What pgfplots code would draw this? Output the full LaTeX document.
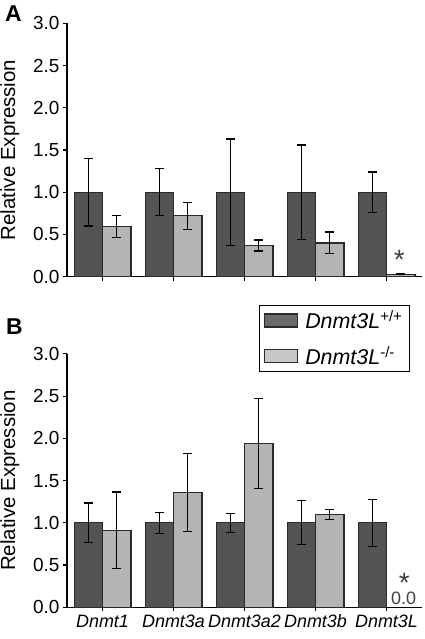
\documentclass[border=0pt]{standalone}
\usepackage{pgfplots}
\pgfplotsset{compat=1.18}
\usepackage{fontspec}
\setmainfont{Liberation Sans}
\definecolor{darkbar}{HTML}{545454}
\definecolor{lightbar}{HTML}{B4B4B4}
\definecolor{darkleg}{HTML}{6A6A6A}
\definecolor{lightleg}{HTML}{C8C8C8}
\definecolor{edge}{HTML}{2A2A2A}
\pgfplotsset{
  panel/.style={
    scale only axis, width=355bp, height=253.4bp,
    xmin=-0.5, xmax=4.5, ymin=0, ymax=3,
    axis x line=bottom, axis y line=left,
    axis line style={line width=1.2bp, -, black},
    xtick={0,1,2,3,4}, ytick={0,0.5,1,1.5,2,2.5,3},
    tick align=outside, major tick length=4bp,
    tick style={line width=1.2bp, black},
    yticklabel style={font=\fontsize{19}{22}\selectfont, /pgf/number format/.cd, fixed, fixed zerofill, precision=1, assume math mode=true},
    xticklabel style={font=\fontsize{18}{21}\selectfont},
    ylabel={Relative Expression},
    ylabel style={font=\fontsize{20.5}{24}\selectfont, at={(axis description cs:-0.124,0.5)}, anchor=south},
    clip=false,
  },
  barstart/.style={ybar, bar width=0.4, bar shift=0, draw=edge, line width=1.2bp},
  errs/.style={error bars/.cd, y dir=both, y explicit,
    error bar style={line width=1.2bp, black},
    error mark options={rotate=90, mark size=4.5bp, line width=1.2bp, black}},
  darkb/.style={barstart, fill=darkbar,
    legend image code/.code={\draw[draw=edge, fill=darkleg, line width=1.2bp] (0bp,-6.5bp) rectangle (33bp,6.5bp);},
    errs},
  lightb/.style={barstart, fill=lightbar,
    legend image code/.code={\draw[draw=edge, fill=lightleg, line width=1.2bp] (0bp,-6.5bp) rectangle (33bp,6.5bp);},
    errs},
}
\begin{document}
\begin{tikzpicture}
\useasboundingbox (0bp,0bp) rectangle (425bp,639bp);
\node[anchor=base west, font=\fontsize{23}{26}\selectfont\bfseries, inner sep=0] at (5bp,617bp) {A};
\node[anchor=base west, font=\fontsize{23}{26}\selectfont\bfseries, inner sep=0] at (6bp,304bp) {B};

% Panel A
\begin{axis}[panel, at={(67bp,362.3bp)}, anchor=south west, xticklabels={}]
\addplot[darkb] coordinates {
  (-0.2,1.0) +- (0,0.40)
  (0.8,1.0) +- (0,0.28)
  (1.8,1.0) +- (0,0.63)
  (2.8,1.0) +- (0,0.56)
  (3.8,1.0) +- (0,0.24)
};
\addplot[lightb] coordinates {
  (0.2,0.59) +- (0,0.13)
  (1.2,0.72) +- (0,0.16)
  (2.2,0.37) +- (0,0.065)
  (3.2,0.40) +- (0,0.13)
  (4.2,0.03) +- (0,0.004)
};
\node[font=\fontsize{28}{30}\selectfont, text=black!75, inner sep=0] at (axis cs:4.18,0.08) {\smash{*}};
\end{axis}

% Panel B
\begin{axis}[panel, at={(67bp,31.7bp)}, anchor=south west,
  xticklabels={\textit{Dnmt1},\textit{Dnmt3a},\textit{Dnmt3a2},\textit{Dnmt3b},\textit{Dnmt3L}},
  legend style={at={(axis description cs:0.966,1.193)}, anchor=north east, draw=black, line width=1bp,
    font=\fontsize{21.5}{25}\selectfont, inner xsep=5bp, inner ysep=3bp, row sep=12bp, column sep=5bp},
  legend cell align=left]
\addplot[darkb] coordinates {
  (-0.2,1.0) +- (0,0.235)
  (0.8,1.0) +- (0,0.125)
  (1.8,1.0) +- (0,0.115)
  (2.8,1.0) +- (0,0.26)
  (3.8,1.0) +- (0,0.28)
};
\addlegendentry{\textit{Dnmt3L}\textsuperscript{+/+}}
\addplot[lightb] coordinates {
  (0.2,0.91) +- (0,0.455)
  (1.2,1.36) +- (0,0.46)
  (2.2,1.94) +- (0,0.53)
  (3.2,1.10) +- (0,0.06)
};
\addlegendentry{\textit{Dnmt3L}\textsuperscript{-/-}}
\node[font=\fontsize{28}{30}\selectfont, text=black!75, inner sep=0] at (axis cs:4.25,0.17) {\smash{*}};
\node[font=\fontsize{18}{21}\selectfont, text=black!75, inner sep=0] at (axis cs:4.24,0.11) {0.0};
\end{axis}
\end{tikzpicture}
\end{document}
